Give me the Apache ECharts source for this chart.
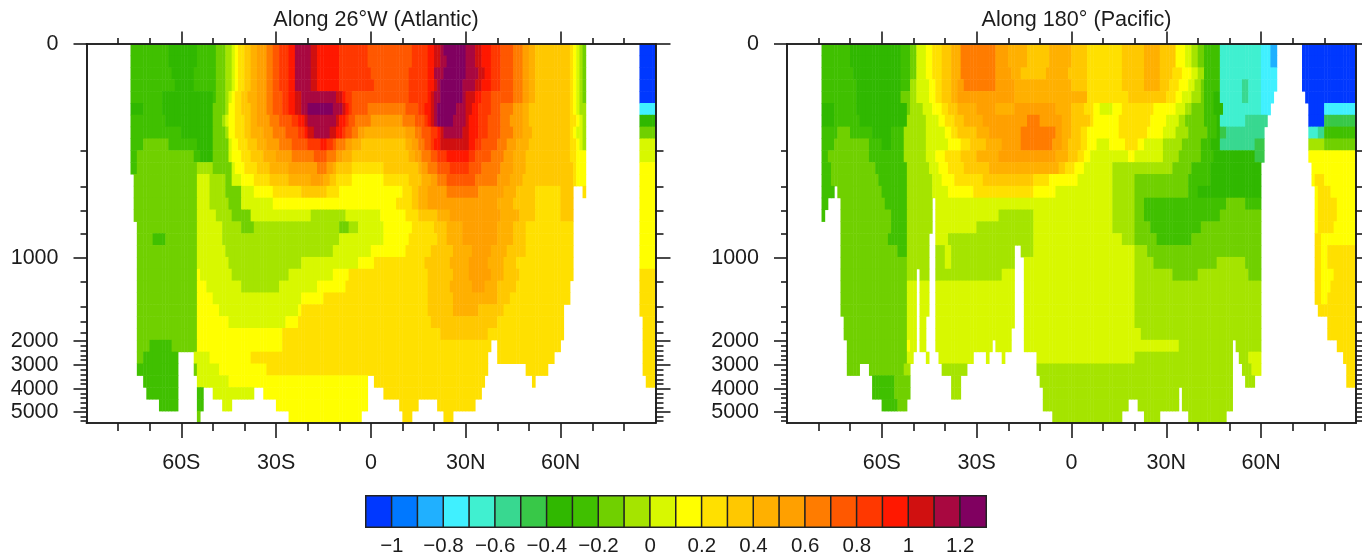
<!DOCTYPE html>
<html><head><meta charset="utf-8">
<style>html,body{margin:0;padding:0;background:#fff}#c{width:1362px;height:558px;filter:blur(0.6px)}</style>
<script src="https://cdn.jsdelivr.net/npm/echarts@6/dist/echarts.min.js"></script>
</head><body><div id="c"></div>
<script>
const _ = null;
// Each depth row is a run list: level (tenths, band = [L/10,(L+1)/10)), latitude where that run ends, ...
const atlanticRuns = [
[_,-76,-3,-64,-4,-55,-3,-49,-2,-46,-1,-44,0,-43,1,-42,2,-40,3,-38,4,-36,5,-33,6,-31,7,-29,8,-26,9,-24,11,-19,10,-17,9,-10,8,-1,7,13,8,18,9,20,10,22,11,23,12,30,11,33,10,35,9,38,8,41,7,45,6,48,5,50,4,52,3,63,2,64,1,65,0,66,-1,67,-2,68,_,85,-11,90],
[_,-76,-3,-64,-4,-55,-3,-49,-2,-46,-1,-44,0,-43,1,-42,2,-40,3,-38,4,-36,5,-33,6,-31,7,-29,8,-26,9,-24,11,-19,10,-17,9,-10,8,-1,7,13,8,18,9,20,10,22,11,24,12,30,11,33,10,35,9,38,8,41,7,45,6,48,5,50,4,52,3,63,2,64,1,65,0,66,-1,67,-2,68,_,85,-11,90],
[_,-76,-3,-63,-4,-56,-3,-49,-2,-46,-1,-44,0,-43,1,-42,2,-40,3,-38,4,-36,5,-33,6,-31,7,-29,8,-26,9,-24,11,-19,10,-17,9,-10,8,0,7,12,8,18,9,20,11,23,12,30,11,34,10,36,9,38,8,41,7,45,6,48,5,50,4,52,3,63,2,64,1,65,0,66,-1,67,-2,68,_,85,-11,90],
[_,-76,-3,-62,-4,-56,-3,-49,-2,-46,-1,-44,0,-43,1,-42,2,-40,3,-38,4,-36,5,-33,6,-31,7,-29,8,-26,9,-24,11,-19,10,-17,9,-10,8,1,7,12,8,18,9,20,10,21,11,22,12,29,11,33,10,35,9,38,8,41,7,45,6,48,5,50,4,52,3,63,2,64,1,65,0,66,-1,67,-2,68,_,85,-11,90],
[_,-76,-3,-66,-4,-50,-3,-49,-2,-46,-1,-45,0,-44,1,-43,2,-41,3,-39,4,-36,5,-33,6,-31,7,-28,8,-26,9,-24,10,-22,11,-11,10,-9,9,-8,8,-6,7,12,8,18,9,19,10,20,11,22,12,29,11,30,10,33,9,35,8,38,7,45,6,48,5,50,4,52,3,63,2,64,1,65,0,66,-1,67,-2,68,_,85,-11,90],
[_,-76,-4,-72,-3,-66,-4,-50,-2,-46,-1,-45,1,-43,2,-41,3,-38,4,-36,5,-33,6,-31,7,-28,8,-26,9,-24,10,-22,11,-20,12,-12,11,-9,10,-8,9,-7,8,-6,7,-1,6,11,7,15,8,17,9,19,10,20,11,21,12,27,11,30,10,32,9,34,8,38,7,41,6,45,5,48,4,50,3,63,2,64,1,65,0,66,-1,68,_,85,-8,90],
[_,-76,-3,-65,-4,-50,-2,-47,-1,-46,0,-45,1,-43,2,-40,3,-38,4,-36,5,-32,6,-29,7,-25,8,-23,9,-21,10,-20,11,-11,10,-10,9,-8,8,-7,7,-5,6,0,5,10,6,14,7,17,8,18,9,19,10,20,11,21,12,26,11,30,10,31,9,34,8,37,7,41,6,44,5,48,4,50,3,63,2,65,1,66,0,67,-1,68,_,85,-4,90],
[_,-76,-3,-60,-4,-50,-2,-46,-1,-45,1,-43,2,-40,3,-38,4,-34,5,-31,6,-27,7,-23,8,-21,9,-20,10,-18,11,-13,10,-11,9,-9,8,-8,7,-6,6,-4,5,-2,4,11,5,14,6,16,7,19,8,21,9,22,10,23,11,29,10,31,9,34,8,37,7,41,6,45,5,48,4,51,3,63,2,64,1,65,0,67,-1,68,_,85,-2,90],
[_,-76,-3,-72,-2,-64,-3,-55,-4,-50,-2,-45,0,-44,1,-42,2,-39,3,-36,4,-33,5,-29,6,-25,7,-20,8,-16,9,-14,8,-12,7,-11,6,-8,5,-6,4,-3,3,11,4,13,5,15,6,17,7,19,8,20,9,22,10,31,9,33,8,35,7,40,6,43,5,46,4,50,3,63,2,65,1,66,0,67,-1,68,_,85,0,90],
[_,-76,-3,-74,-2,-56,-3,-54,-4,-50,-2,-45,-1,-45,0,-44,1,-41,2,-38,3,-34,4,-30,5,-25,6,-18,7,-14,6,-11,5,-9,4,-6,3,12,4,14,5,16,6,19,7,21,8,24,9,31,8,33,7,38,6,42,5,45,4,49,3,63,2,65,1,68,_,85,0,90],
[_,-76,-3,-74,-2,-55,-1,-50,-2,-44,0,-43,1,-40,2,-36,3,-32,4,-26,5,-17,6,-14,5,-12,4,-11,3,-6,2,4,3,15,4,16,5,18,6,21,7,25,8,31,7,35,6,41,5,45,4,49,3,64,2,65,1,68,_,85,1,90],
[_,-75,-2,-55,0,-51,-1,-46,-2,-44,0,-41,1,-37,2,-32,3,-26,4,-19,5,-15,4,-13,3,-11,2,-6,1,4,2,12,3,16,4,19,5,21,6,24,7,33,6,40,5,44,4,48,3,64,2,65,1,68,_,85,1,90],
[_,-75,-2,-55,0,-51,-1,-46,-2,-41,0,-37,1,-31,2,-22,3,-14,2,-10,1,10,2,13,3,15,4,18,5,24,6,34,5,42,4,46,3,52,2,60,3,64,_,67,2,68,_,85,1,90],
[_,-75,-2,-55,0,-51,-1,-45,-2,-41,0,-31,1,8,2,13,3,15,4,18,5,40,4,45,3,52,2,60,3,64,_,85,1,90],
[_,-75,-2,-55,0,-49,-1,-44,-2,-38,0,-19,-1,-8,0,3,1,11,2,15,3,21,4,25,5,41,4,47,3,52,2,60,3,64,_,85,1,90],
[_,-74,-2,-55,0,-47,-1,-41,-2,-37,-1,-10,-2,-7,-1,-4,0,4,1,13,2,20,3,24,4,29,5,40,4,45,3,49,2,64,_,85,1,90],
[_,-74,-2,-69,-3,-65,-2,-55,0,-47,-1,-10,0,4,1,12,2,21,3,24,4,29,5,40,4,45,3,49,2,64,_,85,1,90],
[_,-74,-2,-55,0,-46,-1,-12,0,0,1,11,2,19,3,26,4,32,5,38,4,43,3,49,2,64,_,85,1,90],
[_,-74,-2,-55,0,-45,-1,-22,0,-4,1,1,2,17,3,25,4,31,5,37,4,42,3,46,2,64,_,85,1,90],
[_,-74,-2,-55,1,-54,0,-44,-1,-26,0,-12,1,-7,2,18,3,26,4,31,5,38,4,42,3,47,2,64,_,85,2,90],
[_,-74,-2,-55,1,-52,0,-41,-1,-29,0,-17,1,-8,2,18,3,25,4,32,5,36,4,40,3,46,2,63,_,85,2,90],
[_,-74,-2,-55,1,-50,0,-22,1,-15,2,18,3,26,4,40,3,44,2,63,_,85,2,90],
[_,-74,-2,-55,1,-48,0,-23,1,-22,2,18,3,26,4,34,3,42,2,61,_,85,2,90],
[_,-74,-2,-55,1,-45,0,-27,1,-23,2,19,3,40,2,61,_,86,2,90],
[_,-74,-2,-55,1,-28,2,22,3,37,2,61,_,86,2,90],
[_,-74,-2,-70,-3,-63,-2,-55,1,-28,2,38,_,40,2,60,_,86,2,90],
[_,-74,-2,-72,-3,-61,_,-56,0,-51,1,-38,2,37,_,40,2,58,_,86,2,90],
[_,-74,-3,-61,_,-56,-2,-55,0,-48,1,-33,2,37,_,49,2,56,_,86,2,90],
[_,-72,-3,-61,_,-55,0,-45,1,-1,_,1,2,36,_,51,2,52,_,87,2,90],
[_,-71,-3,-61,_,-55,-3,-53,_,-50,0,-37,_,-34,1,-1,_,4,2,35,_,90],
[_,-67,-3,-61,_,-55,-3,-53,_,-47,0,-44,_,-30,1,-1,_,9,2,15,_,21,2,33,_,90],
[_,-55,-2,-54,_,-26,1,-3,_,10,2,13,_,23,2,26,_,90]
];
const pacificRuns = [
[_,-79,-3,-70,-4,-54,-3,-51,-2,-49,0,-46,1,-44,2,-41,3,-38,4,-35,6,-24,5,-20,4,-14,3,-7,4,0,3,5,2,16,3,23,4,28,3,33,1,36,0,38,-1,40,-2,42,-3,47,-7,60,-8,63,-9,65,_,73,-11,90],
[_,-79,-3,-70,-4,-54,-3,-51,-2,-49,0,-46,1,-44,2,-41,3,-38,4,-35,6,-24,5,-20,4,-14,3,-7,4,0,3,5,2,16,3,23,4,28,3,33,1,36,0,38,-1,40,-2,42,-3,47,-7,60,-8,63,-9,65,_,73,-11,90],
[_,-79,-3,-69,-4,-54,-3,-51,-2,-49,0,-46,1,-44,2,-41,3,-38,4,-35,6,-24,5,-19,4,-16,3,-8,4,-1,3,5,2,16,3,23,4,28,3,32,2,35,1,38,0,40,-1,42,-3,47,-7,60,-8,65,_,73,-11,90],
[_,-79,-3,-68,-4,-54,-3,-51,-1,-49,0,-45,1,-43,2,-41,3,-38,4,-36,5,-34,6,-24,5,-18,4,0,3,5,2,16,3,23,4,28,3,31,2,34,1,37,0,39,-1,41,-2,42,-3,47,-7,54,-6,56,-7,60,-8,65,_,73,-11,90],
[_,-79,-3,-68,-4,-54,-2,-51,-1,-49,0,-45,1,-43,2,-41,3,-38,4,-36,5,-18,4,5,2,18,3,30,2,33,1,35,0,38,-1,41,-2,42,-3,45,-4,47,-7,54,-6,56,-7,60,-8,64,_,74,-11,90],
[_,-79,-4,-75,-3,-68,-4,-52,-2,-51,-1,-47,0,-44,1,-41,2,-39,3,-36,4,-30,5,-24,4,-18,5,-5,4,0,3,4,2,7,1,9,0,13,1,16,2,26,1,33,0,36,-1,38,-2,42,-3,45,-4,48,-7,60,-8,63,_,75,-11,80,-8,90],
[_,-79,-4,-75,-3,-67,-4,-52,-1,-46,0,-42,1,-40,2,-37,3,-34,4,-28,5,-14,6,-10,5,-3,4,0,3,6,2,7,1,15,2,25,1,30,0,34,-1,36,-2,42,-3,46,-4,47,-7,55,-6,62,_,75,-11,80,-5,90],
[_,-79,-3,-74,-2,-70,-3,-63,-4,-57,-3,-53,-1,-46,0,-40,1,-38,2,-36,3,-30,4,-26,5,-16,6,-5,5,-3,4,0,3,3,2,5,1,15,2,24,1,29,0,33,-1,37,-2,43,-3,46,-4,47,-5,49,-6,61,_,75,-7,78,-6,80,-3,90],
[_,-79,-3,-75,-2,-64,-3,-60,-4,-57,-3,-53,-1,-46,0,-39,1,-35,2,-32,3,-27,4,-22,5,-16,6,-6,5,-3,4,-1,3,3,2,5,1,8,0,12,1,17,2,21,1,23,0,29,-1,35,-2,41,-3,44,-4,47,-6,58,-5,61,_,75,-1,80,-2,90],
[_,-79,-3,-77,-2,-64,-3,-53,-1,-46,0,-43,1,-40,2,-35,3,-30,4,-23,5,-5,4,-1,3,2,2,4,1,6,0,18,1,20,0,29,-1,34,-2,41,-3,45,-4,58,-5,61,_,75,1,90],
[_,-79,-3,-76,-2,-62,-3,-52,-1,-45,0,-42,1,-39,2,-34,3,-26,4,-4,3,-2,2,1,1,4,0,13,-1,32,-2,38,-3,44,-4,60,_,76,1,90],
[_,-79,-3,-76,-2,-61,-3,-52,-1,-44,0,-41,1,-37,2,-28,3,-12,2,-7,1,2,0,13,-1,20,-2,37,-3,44,-4,60,_,76,1,77,2,80,1,90],
[_,-79,-3,-75,_,-74,-2,-60,-3,-52,-1,-44,0,-39,1,-31,2,-12,1,-5,0,13,-1,20,-2,37,-3,40,-4,60,_,77,1,78,2,82,1,90],
[_,-79,-3,-77,_,-73,-2,-59,-3,-52,-1,-44,_,-43,0,13,-1,20,-2,23,-3,49,-2,55,-3,60,_,77,1,78,2,84,1,90],
[_,-79,-3,-78,_,-73,-2,-57,-3,-52,-1,-44,_,-43,0,-23,-1,-12,0,13,-1,20,-2,23,-3,47,-2,60,_,77,1,78,2,84,1,90],
[_,-73,-2,-57,-3,-52,-1,-44,_,-43,0,-30,-1,-12,0,13,-1,20,-2,25,-3,41,-2,60,_,77,1,78,2,83,1,90],
[_,-73,-2,-58,-3,-52,-1,-45,_,-43,0,-39,-1,-12,0,16,-1,20,-2,27,-3,38,-2,60,_,77,2,79,1,90],
[_,-73,-2,-55,-3,-52,-1,-45,_,-43,-1,-40,0,-38,-1,-18,_,-16,-1,-12,0,20,-1,24,-2,60,_,77,2,79,1,81,2,90],
[_,-73,-2,-52,-1,-45,_,-43,-1,-40,0,-38,-1,-18,_,-15,0,20,-1,26,-2,46,-1,55,-2,60,_,77,2,79,1,81,2,90],
[_,-73,-2,-52,-1,-49,_,-48,-1,-45,_,-43,-1,-22,0,-18,_,-15,0,20,-1,32,-2,40,-1,56,-2,60,_,77,2,79,1,83,2,90],
[_,-73,-2,-52,0,-49,_,-48,0,-45,_,-43,0,-18,_,-15,0,20,-1,60,_,77,2,79,1,82,2,90],
[_,-73,-2,-52,0,-49,_,-48,0,-45,_,-43,0,-18,_,-15,0,20,-1,60,_,77,2,79,1,81,2,90],
[_,-73,-2,-52,0,-49,_,-48,0,-45,_,-43,0,-18,_,-15,0,20,-1,60,_,78,2,90],
[_,-72,-2,-52,0,-49,_,-48,0,-46,_,-43,0,-18,_,-15,0,20,-1,60,_,81,2,90],
[_,-72,-2,-52,0,-49,_,-48,0,-46,_,-43,0,-19,_,-15,0,22,-1,60,_,81,2,90],
[_,-71,-2,-52,1,-51,0,-49,_,-48,0,-46,_,-43,0,-25,_,-24,0,-19,_,-15,0,34,-1,51,_,52,-1,60,_,84,2,90],
[_,-71,-2,-52,0,-50,_,-46,0,-45,_,-42,0,-31,_,-27,0,-26,_,-22,0,-21,_,-11,0,20,-1,51,_,53,-1,56,0,60,_,86,2,90],
[_,-71,-2,-67,_,-64,-2,-53,-1,-51,_,-41,-1,-33,_,-11,-1,51,_,54,-1,57,0,60,_,87,2,90],
[_,-63,-3,-56,-2,-51,_,-38,-1,-35,_,-10,-1,51,_,55,-1,58,_,87,2,90],
[_,-63,-3,-56,-2,-51,_,-38,-1,-35,_,-9,-1,34,_,35,-1,51,_,90],
[_,-60,-3,-55,-2,-52,_,-9,-1,18,_,21,-1,34,_,35,-1,51,_,90],
[_,-6,-1,16,_,23,-1,28,_,37,-1,49,_,90]
];
const legendLevels = [-11,-10,-9,-8,-7,-6,-5,-4,-3,-2,-1,0,1,2,3,4,5,6,7,8,9,10,11,12];
const levelColors = ['#0038ff','#0078ff','#20b0ff','#40f0ff','#40f0d0','#38d890','#38c848','#30b800','#40c000','#70d000','#a5e400','#d8f800','#ffff00','#ffe000','#ffc800','#ffb000','#ffa000','#ff7c00','#ff5800','#ff3800','#ff1800','#d01010','#a80840','#800060'];
const titles = ['Along 26°W (Atlantic)','Along 180° (Pacific)'];
const latMajor = [-60,-30,0,30,60];
const latMajorLabels = ['60S','30S','0','30N','60N'];
const latMinor = [-80,-70,-50,-40,-20,-10,10,20,40,50,70,80];
// vertical axis is the chart's stretched depth scale: 0..379 scale units
const depthMajor = [0,214,297,321,345,368];
const depthMajorLabels = ['0','1000','2000','3000','4000','5000'];
const depthMinor = [107,143,167,190,238,263,278,289,301.8,306.6,311.4,316.2,325.8,330.6,335.4,340.2,349.6,354.2,358.8,363.4,372.6,377.2];
const legendTicks = [-1,-0.8,-0.6,-0.4,-0.2,0,0.2,0.4,0.6,0.8,1,1.2];
const legendLabels = ['\u22121','\u22120.8','\u22120.6','\u22120.4','\u22120.2','0','0.2','0.4','0.6','0.8','1','1.2'];

const FONT = '"Liberation Sans", Arial, sans-serif';
const INK = '#1c1c1c';
const panels = [{left:86.5, width:569, runs:atlanticRuns},{left:787, width:569, runs:pacificRuns}];
const latCols = Array.from({length:180},(v,i)=>i-89.5);

function cells(runs){
  const out=[];
  runs.forEach((row,r)=>{
    let c=0;
    for(let k=0;k<row.length;k+=2){
      while(c<180 && latCols[c]<row[k+1]){
        if(row[k]!==null) out.push([c,r,(row[k]+0.5)/10]);
        c++;
      }
    }
  });
  return out;
}

const grid=[],xAxis=[],yAxis=[],series=[];
panels.forEach((p,pi)=>{
  grid.push({left:p.left,width:p.width,top:44,height:379,containLabel:false});
  const cx=xAxis.length, cy=yAxis.length;
  xAxis.push({type:'category',gridIndex:pi,show:false,data:latCols});
  yAxis.push({type:'category',gridIndex:pi,show:false,inverse:true,data:p.runs.map((r,i)=>i)});
  series.push({type:'heatmap',xAxisIndex:cx,yAxisIndex:cy,data:cells(p.runs),progressive:0,emphasis:{disabled:true},itemStyle:{borderWidth:0}});
  const line={lineStyle:{color:INK,width:1.6}};
  const ax=(pos,vals,len,labels)=>({type:'value',gridIndex:pi,position:pos,min:-90,max:90,z:10,
    axisLine:{show:true,onZero:false,...line},splitLine:{show:false},
    axisTick:{show:true,customValues:vals,length:len,...line},
    axisLabel:labels?{show:true,customValues:vals,margin:29,fontFamily:FONT,fontSize:21.5,color:INK,hideOverlap:false,formatter:v=>labels[vals.indexOf(v)]}:{show:false}});
  xAxis.push(ax('bottom',latMajor,15,latMajorLabels),ax('bottom',latMinor,8),ax('top',latMajor,12.5),ax('top',latMinor,6));
  const ay=(pos,vals,len,labels)=>({type:'value',gridIndex:pi,position:pos,min:0,max:379,inverse:true,z:10,
    axisLine:{show:true,onZero:false,...line},splitLine:{show:false},
    axisTick:{show:true,customValues:vals,length:len,...line},
    axisLabel:labels?{show:true,customValues:vals,margin:28,fontFamily:FONT,fontSize:21.5,color:INK,hideOverlap:false,formatter:v=>labels[vals.indexOf(v)]}:{show:false}});
  yAxis.push(ay('left',depthMajor,13,depthMajorLabels),ay('left',depthMinor,6),ay('right',depthMajor,15),ay('right',depthMinor,8));
});
// colour bar
grid.push({left:366,width:620,top:496,height:31,containLabel:false});
const bx=xAxis.length, by=yAxis.length;
xAxis.push({type:'category',gridIndex:2,show:false,data:legendLevels});
yAxis.push({type:'category',gridIndex:2,show:false,data:['bar']});
series.push({type:'heatmap',xAxisIndex:bx,yAxisIndex:by,progressive:0,emphasis:{disabled:true},
  data:legendLevels.map((L,i)=>[i,0,(L+0.5)/10]),itemStyle:{borderColor:'#222',borderWidth:1.5}});
xAxis.push({type:'value',gridIndex:2,position:'bottom',min:-1.1,max:1.3,z:10,axisLine:{show:false,onZero:false},axisTick:{show:false},splitLine:{show:false},
  axisLabel:{show:true,customValues:legendTicks,margin:9,fontFamily:FONT,fontSize:20.5,color:INK,hideOverlap:false,formatter:v=>legendLabels[legendTicks.indexOf(v)]}});
yAxis.push({type:'value',gridIndex:2,min:0,max:1,show:false});

const chart=echarts.init(document.getElementById('c'),null,{renderer:'canvas'});
chart.setOption({
  animation:false,backgroundColor:'#fff',
  title:titles.map((t,i)=>({text:t,left:panels[i].left+panels[i].width/2,top:4,textAlign:'center',textStyle:{fontFamily:FONT,fontSize:21.6,fontWeight:'normal',color:INK}})),
  grid,xAxis,yAxis,series,
  visualMap:{type:'piecewise',show:false,dimension:2,seriesIndex:[0,1,2],
    pieces:legendLevels.map((L,i)=>({gte:L/10,lt:(L+1)/10,color:levelColors[i]}))}
});
</script></body></html>
